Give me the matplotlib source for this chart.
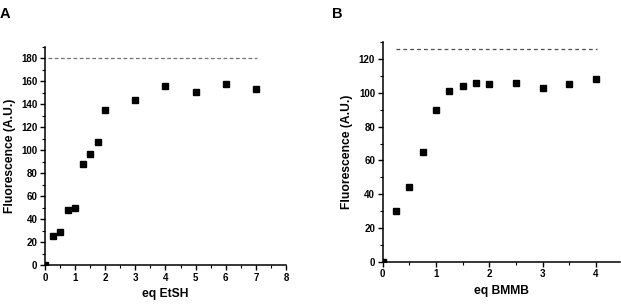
import matplotlib.pyplot as plt
from matplotlib.ticker import MultipleLocator

plt.rcParams['font.family'] = ['Liberation Sans', 'DejaVu Sans']
plt.rcParams['font.weight'] = 'bold'

# panel A: EtSH titration
etsh_eq = [0, 0.25, 0.5, 0.75, 1, 1.25, 1.5, 1.75, 2, 3, 4, 5, 6, 7]
etsh_fl = [0, 25, 29, 48, 50, 88, 97, 107, 135, 144, 156, 151, 158, 153]
etsh_max = 180

# panel B: BMMB titration
bmmb_eq = [0, 0.25, 0.5, 0.75, 1, 1.25, 1.5, 1.75, 2, 2.5, 3, 3.5, 4]
bmmb_fl = [0, 30, 44, 65, 90, 101, 104, 106, 105, 106, 103, 105, 108]
bmmb_max = 126

fig = plt.figure(figsize=(6.21, 3.04), dpi=100)
ax_a = fig.add_axes([0.0725, 0.128, 0.388, 0.718])
ax_b = fig.add_axes([0.6163, 0.139, 0.382, 0.722])


def style_axis(ax, xmax, ymax, ystep, xlabel):
    ax.spines['top'].set_visible(False)
    ax.spines['right'].set_visible(False)
    for s in ('left', 'bottom'):
        ax.spines[s].set_linewidth(1.1)
    ax.set_xlim(0, xmax)
    ax.set_ylim(0, ymax)
    ax.xaxis.set_major_locator(MultipleLocator(1))
    ax.xaxis.set_minor_locator(MultipleLocator(0.5))
    ax.yaxis.set_major_locator(MultipleLocator(ystep))
    ax.yaxis.set_minor_locator(MultipleLocator(ystep / 2))
    ax.tick_params(which='major', length=3.5, width=1, labelsize=7, pad=2)
    ax.tick_params(which='minor', length=2, width=0.8)
    ax.set_xlabel(xlabel, fontsize=8.7, fontweight='bold', labelpad=4)
    ax.set_ylabel('Fluorescence (A.U.)', fontsize=8.7, fontweight='bold', labelpad=4)


# origin point sits on the axes corner and gets clipped, like the source figure
ax_a.plot(etsh_eq, etsh_fl, 's', color='black', markersize=4.2, zorder=3)
ax_a.plot([0.1, 7.05], [etsh_max, etsh_max], color='0.45', lw=0.9, ls=(0, (3, 2)))
style_axis(ax_a, 8, 190, 20, 'eq EtSH')

ax_b.plot(bmmb_eq, bmmb_fl, 's', color='black', markersize=4.2, zorder=3)
ax_b.plot([0.25, 4.02], [bmmb_max, bmmb_max], color='0.3', lw=0.9, ls=(0, (3, 2.5)))
style_axis(ax_b, 4.45, 130, 20, 'eq BMMB')

fig.text(0.0, 0.94, 'A', fontsize=10.5, fontweight='bold')
fig.text(0.535, 0.94, 'B', fontsize=10.5, fontweight='bold')

fig.savefig('out.png', dpi=100)
